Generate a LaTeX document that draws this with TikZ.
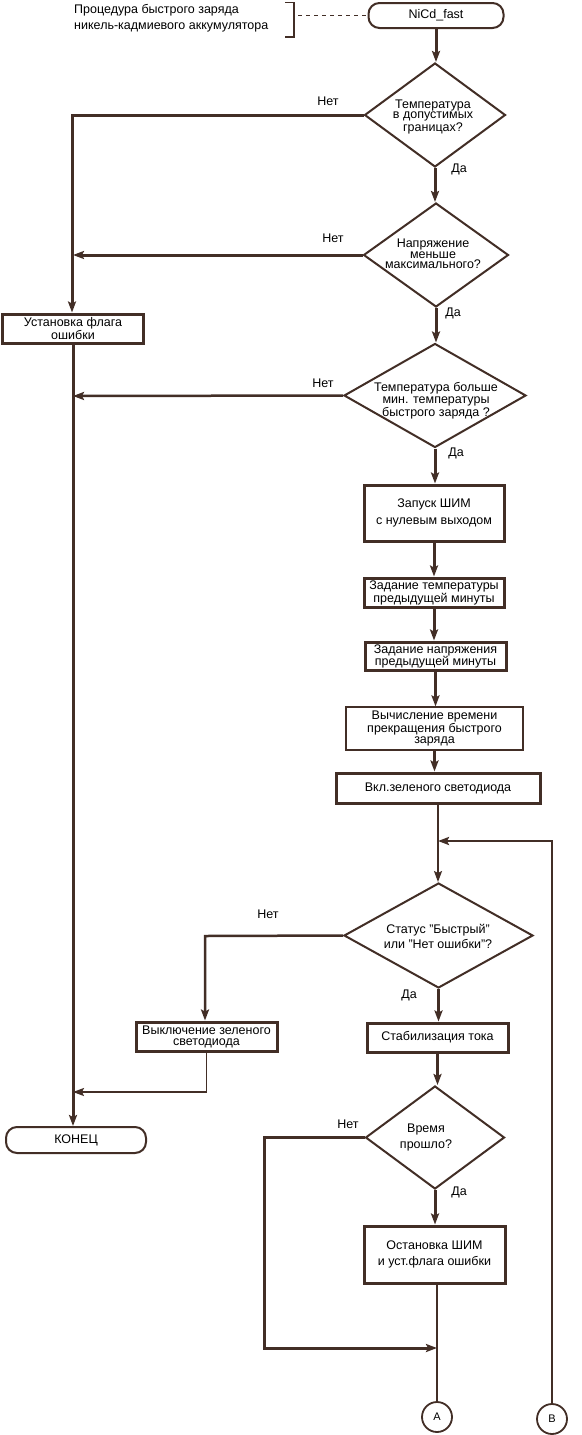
\documentclass[tikz,border=0pt]{standalone}
\usepackage{fontspec}
\setmainfont{Liberation Sans}
\usetikzlibrary{arrows.meta,shapes.geometric}
\definecolor{ink}{RGB}{66,46,38}
\begin{document}
\begin{tikzpicture}[x=1pt,y=-1pt,
  every node/.style={font=\fontsize{12.5}{12.5}\selectfont, text=black},
  box/.style={draw=ink, line width=3pt, rectangle, inner sep=0pt, align=center},
  thinbox/.style={box, line width=1.2pt},
  term/.style={draw=ink, line width=2pt, rectangle, rounded corners=11pt, inner sep=0pt},
  dia/.style={draw=ink, line width=2pt, diamond, inner sep=0pt},
  txt/.style={align=center, inner sep=0pt},
  lbl/.style={inner sep=0pt},
  tip/.style={-{Stealth[length=11pt,width=8pt,inset=2pt]}},
  conn/.style={draw=ink, line width=3pt, tip},
  midconn/.style={draw=ink, line width=2.5pt, tip},
  thinconn/.style={draw=ink, line width=1.8pt, tip},
  thinline/.style={draw=ink, line width=1.6pt},
  circ/.style={draw=ink, line width=1.8pt, circle, minimum size=30pt, inner sep=0pt, font=\fontsize{11}{11}\selectfont},
]
\fill[white] (0,0) rectangle (581,1435);
\useasboundingbox (0,0) rectangle (581,1435);

% annotation
\node[lbl, anchor=west, align=left, font=\fontsize{12.5}{16}\selectfont] (note) at (74,18) {Процедура быстрого заряда\\никель-кадмиевого аккумулятора};
\draw[ink, line width=1.5pt] (285,2.5) -- (294,2.5) -- (294,37) -- (285,37);

% start
\node[term, minimum width=135pt, minimum height=25pt] (nicd) at (436,15.5) {NiCd\_fast};
\draw[ink, line width=1pt, dash pattern=on 4pt off 4pt] (298,15.5) -- (nicd.west);

% diamond 1
\node[dia, minimum width=141pt, minimum height=104pt] (d1) at (435,115) {};
\node[txt, font=\fontsize{12.5}{10}\selectfont] (d1t) at (433,117) {Температура\\в допустимых\\границах?};
\node[lbl] (n1) at (328,101) {Нет};
\node[lbl] (y1) at (459,169) {Да};

% diamond 2
\node[dia, minimum width=145pt, minimum height=104pt] (d2) at (436,255) {};
\node[txt, font=\fontsize{12.5}{10.5}\selectfont] (d2t) at (433,254) {Напряжение\\меньше\\максимального?};
\node[lbl] (n2) at (333,238) {Нет};
\node[lbl] (y2) at (453,313) {Да};

% error flag box
\node[box, minimum width=141pt, minimum height=29pt, font=\fontsize{12.5}{12.5}\selectfont] (ust) at (73,328.5) {Установка флага\\ошибки};

% diamond 3
\node[dia, minimum width=182pt, minimum height=104pt] (d3) at (435,395.5) {};
\node[txt, font=\fontsize{12.5}{12.5}\selectfont] (d3t) at (436,400.5) {Температура больше\\мин. температуры\\быстрого заряда ?};
\node[lbl] (n3) at (323,383) {Нет};
\node[lbl] (y3) at (456,453) {Да};

% process boxes
\node[box, minimum width=140pt, minimum height=56pt, font=\fontsize{12.5}{17}\selectfont] (pwm) at (434,513) {Запуск ШИМ\\с нулевым выходом};
\node[box, minimum width=140pt, minimum height=29pt, font=\fontsize{12.5}{11}\selectfont] (zt) at (434,592.5) {Задание температуры\\предыдущей минуты};
\node[box, minimum width=141pt, minimum height=28pt, font=\fontsize{12.5}{12}\selectfont] (zn) at (435.5,656) {Задание напряжения\\предыдущей минуты};
\node[thinbox, minimum width=177pt, minimum height=43pt, font=\fontsize{12.5}{11.5}\selectfont] (calc) at (434.5,728.5) {Вычисление времени\\прекращения быстрого\\заряда};
\node[box, minimum width=204pt, minimum height=30pt] (vkl) at (438,788) {Вкл.зеленого светодиода};

% diamond 4
\node[dia, minimum width=189pt, minimum height=105pt] (d4) at (438.5,935.5) {};
\node[txt, font=\fontsize{12.5}{15.5}\selectfont] (d4t) at (438,936.5) {Статус "Быстрый"\\или "Нет ошибки"?};
\node[lbl] (n4) at (268,914) {Нет};
\node[lbl] (y4) at (409,995) {Да};

\node[box, minimum width=141pt, minimum height=29pt, font=\fontsize{12.5}{11}\selectfont] (vyk) at (206.5,1036.5) {Выключение зеленого\\светодиода};
\node[box, minimum width=141pt, minimum height=29pt] (stab) at (437.5,1037.5) {Стабилизация тока};

% diamond 5
\node[dia, minimum width=139pt, minimum height=103pt] (d5) at (435,1137.5) {};
\node[txt, font=\fontsize{12.5}{16}\selectfont] (d5t) at (426,1137) {Время\\прошло?};
\node[lbl] (n5) at (348,1124) {Нет};
\node[lbl] (y5) at (459,1192) {Да};

\node[box, minimum width=141pt, minimum height=57pt, font=\fontsize{12.5}{16}\selectfont] (ost) at (434.5,1254.5) {Остановка ШИМ\\и уст.флага ошибки};

% end and connectors
\node[term, minimum width=140pt, minimum height=26pt] (kon) at (76,1140) {КОНЕЦ};
\node[circ] (A) at (437,1417) {A};
\node[circ] (B) at (552,1419) {B};

% coordinates for free ends
\coordinate (c1) at (72,115);
\coordinate (j2) at (73,255);
\coordinate (j3) at (73,396);
\coordinate (j4) at (73,1092);
\coordinate (c4) at (205,936);
\coordinate (c6) at (264,1137.5);
\coordinate (c7) at (264,1348);
\coordinate (j5) at (437,1348);
\coordinate (c8) at (552,841);
\coordinate (j6) at (438,841);

% main flow
\draw[conn] (nicd.south) -- (nicd.south |- d1.north);
\draw[conn] (d1.south) -- (d1.south |- d2.north);
\draw[conn] (d2.south) -- (d2.south |- d3.north);
\draw[conn] (d3.south) -- (d3.south |- pwm.north);
\draw[conn] (pwm.south) -- (pwm.south |- zt.north);
\draw[conn] (zt.south) -- (zt.south |- zn.north);
\draw[conn] (zn.south) -- (zn.south |- calc.north);
\draw[conn] (calc.south) -- (calc.south |- vkl.north);
\draw[thinconn] (vkl.south) -- (vkl.south |- d4.north);
\draw[conn] (d4.south) -- (d4.south |- stab.north);
\draw[conn] (stab.south) -- (stab.south |- d5.north);
\draw[conn] (d5.south) -- (d5.south |- ost.north);
\draw[thinline] (A.north |- ost.south) -- (A.north);

% no branches
\draw[conn] (d1.west) -- (c1) -- (c1 |- ust.north);
\draw[conn] (d2.west) -- (j2);
\draw[midconn] (d3.west) -- (j3);
\draw[conn] (ust.south) -- (ust.south |- kon.north);
\draw[midconn] (d4.west) -- (c4) -- (c4 |- vyk.north);
\draw[thinconn] (vyk.south) -- (vyk.south |- j4) -- (j4);
\draw[conn] (d5.west) -- (c6) -- (c7) -- (j5);
\draw[midconn] (B.north) -- (c8) -- (j6);
\end{tikzpicture}
\end{document}
